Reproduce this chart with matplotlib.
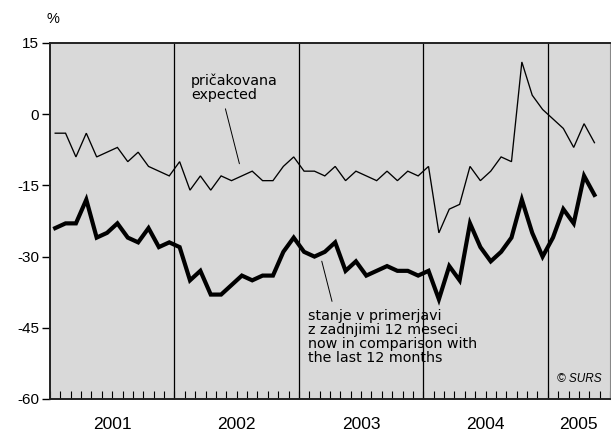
import matplotlib
matplotlib.use("Agg")
import matplotlib.pyplot as plt
import matplotlib.transforms as mtransforms
import numpy as np

plt.rcParams['font.family'] = ['Liberation Sans', 'DejaVu Sans']

years = ["2001", "2002", "2003", "2004", "2005"]
months_per_year = [12, 12, 12, 12, 6]

expected = [
    -4, -4, -9, -4, -9, -8, -7, -10, -8, -11, -12, -13,
    -10, -16, -13, -16, -13, -14, -13, -12, -14, -14, -11, -9,
    -12, -12, -13, -11, -14, -12, -13, -14, -12, -14, -12, -13,
    -11, -25, -20, -19, -11, -14, -12, -9, -10, 11, 4, 1,
    -1, -3, -7, -2, -6,
]
now_vs_last12 = [
    -24, -23, -23, -18, -26, -25, -23, -26, -27, -24, -28, -27,
    -28, -35, -33, -38, -38, -36, -34, -35, -34, -34, -29, -26,
    -29, -30, -29, -27, -33, -31, -34, -33, -32, -33, -33, -34,
    -33, -39, -32, -35, -23, -28, -31, -29, -26, -18, -25, -30,
    -26, -20, -23, -13, -17,
]
yticks = [15, 0, -15, -30, -45, -60]

label_expected = "pričakovana\nexpected"
label_now = "stanje v primerjavi\nz zadnjimi 12 meseci\nnow in comparison with\nthe last 12 months"

fig = plt.figure(figsize=(6.11, 4.32), dpi=100)
ax = fig.add_axes([50 / 611, 33 / 432, 560 / 611, 356 / 432])
ax.set_facecolor('#d9d9d9')

total_months = sum(months_per_year)
x = np.arange(len(expected)) + 0.5
ax.plot(x, expected, color='black', lw=0.95, solid_joinstyle='miter')
ax.plot(x, now_vs_last12, color='black', lw=3.0, solid_joinstyle='miter')

ax.set_xlim(0, total_months)
ax.set_ylim(-60, 15)

# year separators
bounds = np.cumsum(months_per_year)[:-1]
for b in bounds:
    ax.axvline(b, color='black', lw=0.9)

# month ticks
ax.set_xticks(np.arange(0, total_months + 1))
ax.set_xticklabels([])
ax.tick_params(axis='x', direction='in', length=6, width=0.8, color='black')

ax.set_yticks(yticks)
ax.set_yticklabels([str(v) for v in yticks], fontsize=11)
ax.tick_params(axis='y', direction='out', length=6, width=1.0, pad=2, color='black')

for side in ['left', 'bottom', 'top']:
    ax.spines[side].set_linewidth(1.4)
    ax.spines[side].set_color('#222222')
ax.spines['right'].set_linewidth(0.8)
ax.spines['right'].set_color('#888888')

# year labels
starts = np.concatenate([[0], np.cumsum(months_per_year)[:-1]])
trans = mtransforms.blended_transform_factory(ax.transData, ax.transAxes)
for yr, s, n in zip(years, starts, months_per_year):
    ax.text(s + n / 2, -0.072, yr, transform=trans, ha='center', va='center', fontsize=12.5)

fig.text(53 / 611, 1 - 19 / 432, "%", ha='center', va='center', fontsize=10.5)

ann_font = ['DejaVu Sans']
ax.text(13.6, 8.6, label_expected, ha='left', va='top', fontsize=10.3,
        linespacing=1.02, family=ann_font)
ax.annotate('', xy=(18.33, -11.0), xytext=(16.85, 1.7),
            arrowprops=dict(arrowstyle='-', color='black', lw=0.7))

ax.text(24.85, -41.0, label_now, ha='left', va='top', fontsize=10.3,
        linespacing=1.02, family=ann_font)
ax.annotate('', xy=(27.26, -40.0), xytext=(26.14, -30.4),
            arrowprops=dict(arrowstyle='-', color='black', lw=0.7))

ax.text(0.985, 0.055, "© SURS", transform=ax.transAxes, ha='right', va='center',
        fontsize=8.5, style='italic')

fig.savefig("out.png", dpi=100)
